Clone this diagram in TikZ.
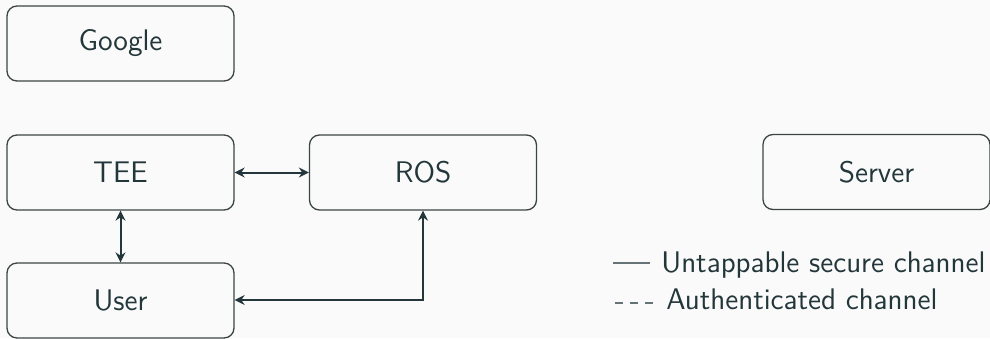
\documentclass[tikz,border=0pt]{standalone}
\usetikzlibrary{arrows.meta}
\definecolor{ink}{HTML}{23373B}
\definecolor{edge}{HTML}{3C4446}
\definecolor{paper}{HTML}{FAFAFA}
\tikzset{
  party/.style={draw=edge, line width=0.65pt, rounded corners=5pt,
    minimum width=113.5pt, minimum height=37.5pt, inner sep=0pt,
    text=ink, font=\sffamily\fontsize{14.9}{17}\selectfont},
  link/.style={draw=ink, line width=1pt,
    {Stealth[length=5pt,width=5pt]}-{Stealth[length=5pt,width=5pt]}},
  legtext/.style={anchor=base west, inner sep=0pt, text=ink,
    font=\sffamily\fontsize{14.9}{17}\selectfont},
  legline/.style={draw=ink!70, line width=0.6pt}
}
\begin{document}
\begin{tikzpicture}[x=0.5pt, y=-0.5pt]
  \fill[paper] (0,0) rectangle (990,338);
  \useasboundingbox (0,0) rectangle (990,338);

  % parties
  \node[party] (google) at (120.5,43.5) {Google};
  \node[party] (tee)    at (120.5,172.5) {TEE};
  \node[party] (ros)    at (423,172.5) {ROS};
  \node[party] (server) at (876.5,172) {Server};
  \node[party] (user)   at (120.5,300.5) {User};

  % channels
  \draw[link] (tee) -- (ros);
  \draw[link] (tee) -- (user);
  \coordinate (bend) at (423,300);
  \draw[link] (user.east |- bend) -- (bend) -- (ros.south);

  % legend
  \node[legtext] (l1) at (661,272) {Untappable secure channel};
  \node[legtext] (l2) at (666,309) {Authenticated channel};
  \coordinate (l1a) at (613,263);
  \coordinate (l1b) at (650,263);
  \coordinate (l2a) at (615,303);
  \coordinate (l2b) at (653,303);
  \draw[legline] (l1a) -- (l1b);
  \draw[legline, dash pattern=on 4pt off 3.5pt] (l2a) -- (l2b);
\end{tikzpicture}
\end{document}
